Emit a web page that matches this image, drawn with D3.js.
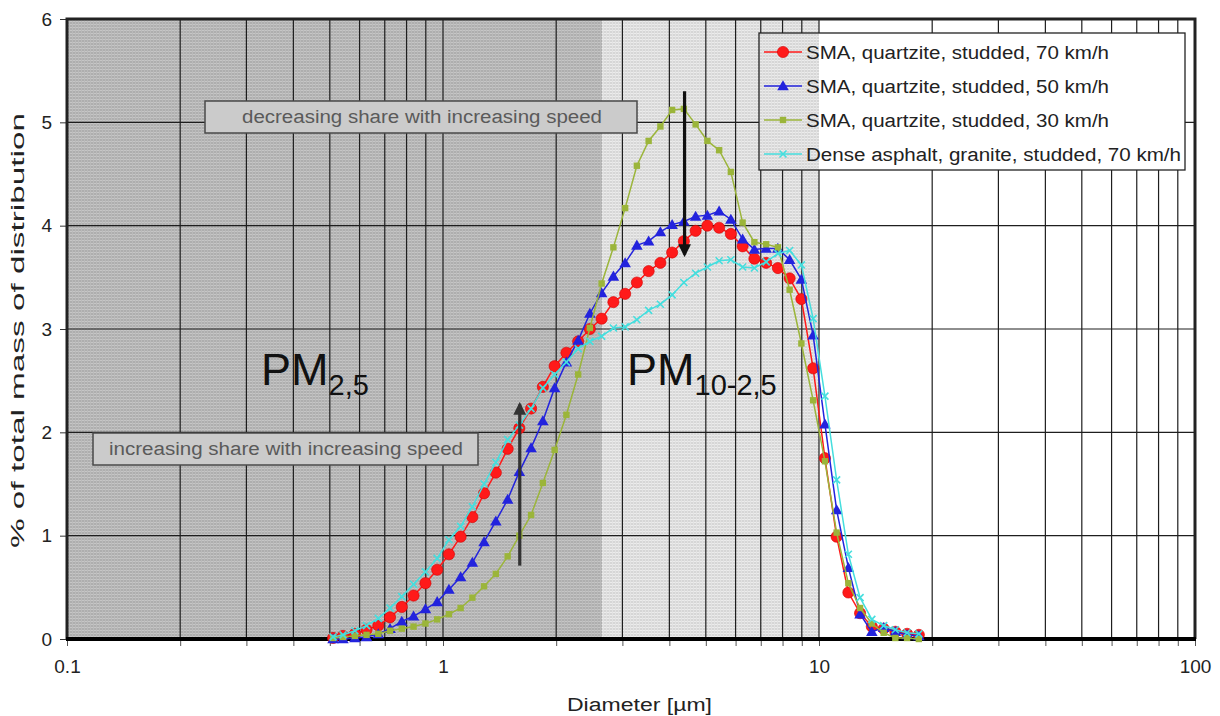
<!DOCTYPE html>
<html>
<head>
<meta charset="utf-8">
<script src="https://cdn.jsdelivr.net/npm/d3@7"></script>
<style>
  body { margin: 0; background: #fff; }
  svg text { font-family: "Liberation Sans", Arial, sans-serif; }
</style>
</head>
<body>
<script>
// particle diameters (µm), APS channels
const diameters = [0.51, 0.542, 0.583, 0.626, 0.673, 0.723, 0.777, 0.835, 0.898, 0.965,
  1.037, 1.114, 1.197, 1.286, 1.382, 1.486, 1.596, 1.715, 1.843, 1.981,
  2.129, 2.288, 2.458, 2.642, 2.839, 3.051, 3.278, 3.523, 3.786, 4.068,
  4.371, 4.698, 5.048, 5.425, 5.829, 6.264, 6.732, 7.234, 7.774, 8.354,
  8.977, 9.647, 10.37, 11.14, 11.97, 12.86, 13.82, 14.86, 15.96, 17.15, 18.43];

const sma70 = [0.01, 0.03, 0.05, 0.09, 0.13, 0.21, 0.31, 0.42, 0.54, 0.67,
  0.82, 0.99, 1.18, 1.41, 1.61, 1.84, 2.04, 2.23, 2.44, 2.64,
  2.77, 2.88, 3.00, 3.10, 3.26, 3.34, 3.45, 3.56, 3.64, 3.74,
  3.85, 3.95, 4.00, 3.98, 3.92, 3.80, 3.68, 3.64, 3.59, 3.49,
  3.29, 2.62, 1.75, 0.99, 0.45, 0.25, 0.12, 0.10, 0.07, 0.05, 0.04];

const sma50 = [0.00, 0.00, 0.01, 0.02, 0.05, 0.10, 0.17, 0.22, 0.29, 0.36,
  0.48, 0.60, 0.74, 0.94, 1.14, 1.35, 1.62, 1.85, 2.11, 2.43,
  2.68, 2.89, 3.15, 3.35, 3.51, 3.64, 3.81, 3.85, 3.94, 4.01,
  4.04, 4.09, 4.10, 4.14, 4.06, 3.87, 3.77, 3.78, 3.78, 3.67,
  3.48, 2.94, 2.08, 1.25, 0.69, 0.24, 0.07, 0.11, 0.07, 0.04, 0.03];

const sma30 = [0.01, 0.02, 0.03, 0.04, 0.05, 0.08, 0.10, 0.12, 0.15, 0.19,
  0.24, 0.30, 0.40, 0.51, 0.63, 0.80, 1.00, 1.20, 1.51, 1.83,
  2.17, 2.56, 3.01, 3.44, 3.79, 4.17, 4.58, 4.82, 4.96, 5.12,
  5.13, 4.98, 4.82, 4.73, 4.52, 4.03, 3.84, 3.82, 3.79, 3.38,
  2.86, 2.31, 1.72, 1.03, 0.54, 0.30, 0.15, 0.06, 0.01, 0.01, 0.00];

const dense70 = [0.02, 0.04, 0.08, 0.13, 0.20, 0.30, 0.41, 0.53, 0.65, 0.78,
  0.96, 1.09, 1.28, 1.50, 1.71, 1.93, 2.07, 2.23, 2.43, 2.56,
  2.68, 2.81, 2.88, 2.93, 3.01, 3.02, 3.09, 3.18, 3.24, 3.33,
  3.45, 3.54, 3.60, 3.66, 3.67, 3.60, 3.59, 3.65, 3.73, 3.76,
  3.62, 3.10, 2.35, 1.54, 0.82, 0.40, 0.19, 0.13, 0.09, 0.06, 0.05];

const seriesNames = ['SMA, quartzite, studded, 70 km/h', 'SMA, quartzite, studded, 50 km/h',
  'SMA, quartzite, studded, 30 km/h', 'Dense asphalt, granite, studded, 70 km/h'];
const seriesValues = [sma70, sma50, sma30, dense70];
const seriesColors = ['#ff1a1a', '#2323dd', '#9bb53a', '#45dede'];
const seriesMarkers = ['circle', 'triangle', 'square', 'cross'];

const yTicks = [0, 1, 2, 3, 4, 5, 6];
const xTickLabels = [0.1, 1, 10, 100];
const pm25Limit = 2.65;   // end of the dark shaded band
const pm10Limit = 10;

const width = 1220;
const height = 716;
const plot = { left: 67, right: 1195, top: 19, bottom: 639 };

const svg = d3.select('body').append('svg')
  .attr('width', width)
  .attr('height', height);

const x = d3.scaleLog().domain([0.1, 100]).range([plot.left, plot.right]);
const y = d3.scaleLinear().domain([0, 6]).range([plot.bottom, plot.top]);

// textured fills for the two PM bands
const defs = svg.append('defs');
function texture(id, base, lineH, lineV) {
  const p = defs.append('pattern')
    .attr('id', id)
    .attr('patternUnits', 'userSpaceOnUse')
    .attr('width', 3).attr('height', 3);
  p.append('rect').attr('width', 3).attr('height', 3).attr('fill', base);
  p.append('rect').attr('width', 3).attr('height', 1).attr('fill', lineH);
  p.append('rect').attr('width', 1).attr('height', 3).attr('fill', lineV);
}
texture('darkBand', '#aeaeae', '#c6c6c6', '#bababa');
texture('lightBand', '#d6d6d6', '#ececec', '#e2e2e2');

svg.append('rect')
  .attr('x', x(0.1)).attr('y', plot.top)
  .attr('width', x(pm25Limit) - x(0.1)).attr('height', plot.bottom - plot.top)
  .attr('fill', 'url(#darkBand)');
svg.append('rect')
  .attr('x', x(pm25Limit)).attr('y', plot.top)
  .attr('width', x(pm10Limit) - x(pm25Limit)).attr('height', plot.bottom - plot.top)
  .attr('fill', 'url(#lightBand)');

// grid
const gridX = [];
[0.1, 1, 10].forEach(d => { for (let k = 1; k <= 9; k++) gridX.push(+(d * k).toPrecision(3)); });
gridX.push(100);

svg.append('g')
  .selectAll('line')
  .data(gridX.filter(d => d > 0.1 && d < 100))
  .enter().append('line')
  .attr('x1', d => x(d)).attr('x2', d => x(d))
  .attr('y1', plot.top).attr('y2', plot.bottom)
  .attr('stroke', '#1e1e1e').attr('stroke-width', 1.2);

svg.append('g')
  .selectAll('line')
  .data(yTicks.filter(d => d > 0 && d < 6))
  .enter().append('line')
  .attr('x1', plot.left).attr('x2', plot.right)
  .attr('y1', d => y(d)).attr('y2', d => y(d))
  .attr('stroke', '#1e1e1e').attr('stroke-width', 1.2);

// axes
const yAxis = d3.axisLeft(y).tickValues(yTicks).tickSize(7).tickPadding(8)
  .tickFormat(d3.format('d'));
svg.append('g')
  .attr('transform', `translate(${plot.left},0)`)
  .call(yAxis)
  .call(g => g.select('.domain').remove())
  .call(g => g.selectAll('line').attr('stroke', '#333'))
  .call(g => g.selectAll('text').attr('font-size', 19).attr('fill', '#222'));

const xAxis = d3.axisBottom(x).tickValues(gridX).tickSize(7).tickPadding(14)
  .tickFormat(d => xTickLabels.includes(d) ? d3.format('')(d) : '');
svg.append('g')
  .attr('transform', `translate(0,${plot.bottom})`)
  .call(xAxis)
  .call(g => g.select('.domain').remove())
  .call(g => g.selectAll('line').attr('stroke', '#555'))
  .call(g => g.selectAll('text').attr('font-size', 19).attr('fill', '#222'));

// frame
svg.append('path')
  .attr('d', `M${plot.left},${plot.bottom}V${plot.top}H${plot.right}V${plot.bottom}`)
  .attr('fill', 'none').attr('stroke', '#222').attr('stroke-width', 3);
svg.append('line')
  .attr('x1', plot.left - 1).attr('x2', plot.right + 1)
  .attr('y1', plot.bottom).attr('y2', plot.bottom)
  .attr('stroke', '#000').attr('stroke-width', 4);

// axis titles
svg.append('text')
  .attr('x', 567).attr('y', 711)
  .attr('font-size', 18).attr('fill', '#222')
  .attr('textLength', 145).attr('lengthAdjust', 'spacingAndGlyphs')
  .text('Diameter [µm]');
svg.append('text')
  .attr('transform', `translate(24,548) rotate(-90)`)
  .attr('font-size', 18).attr('fill', '#222')
  .attr('textLength', 435).attr('lengthAdjust', 'spacingAndGlyphs')
  .text('% of total mass of distribution');

// PM labels
function pmLabel(xPos, sub) {
  const t = svg.append('text')
    .attr('x', xPos).attr('y', 385)
    .attr('font-size', 45).attr('fill', '#111');
  t.append('tspan').text('PM');
  t.append('tspan').attr('font-size', 29).attr('dy', 10).text(sub);
}
pmLabel(261, '2,5');
pmLabel(627, '10-2,5');

// markers
function drawMarker(g, type, color, cx, cy) {
  if (type === 'circle') {
    g.append('circle').attr('cx', cx).attr('cy', cy).attr('r', 5.6)
      .attr('fill', color).attr('stroke', '#d40000').attr('stroke-width', 0.6);
  } else if (type === 'triangle') {
    g.append('path').attr('transform', `translate(${cx},${cy + 1})`)
      .attr('d', d3.symbol(d3.symbolTriangle, 58)()).attr('fill', color);
  } else if (type === 'square') {
    g.append('rect').attr('x', cx - 3.2).attr('y', cy - 3.2)
      .attr('width', 6.4).attr('height', 6.4).attr('fill', color);
  } else {
    g.append('path')
      .attr('d', `M${cx - 3.5},${cy - 3.5}L${cx + 3.5},${cy + 3.5}M${cx - 3.5},${cy + 3.5}L${cx + 3.5},${cy - 3.5}`)
      .attr('stroke', color).attr('stroke-width', 1.6);
  }
}

const line = d3.line().x(d => x(d[0])).y(d => y(d[1]));

seriesValues.forEach((vals, i) => {
  const pts = diameters.map((d, j) => [d, vals[j]]);
  const g = svg.append('g');
  g.append('path')
    .attr('d', line(pts))
    .attr('fill', 'none')
    .attr('stroke', seriesColors[i])
    .attr('stroke-width', 1.5);
  pts.forEach(p => drawMarker(g, seriesMarkers[i], seriesColors[i], x(p[0]), y(p[1])));
});

// annotation boxes
function noteBox(x0, x1, yTop, tx, tw, label) {
  svg.append('rect')
    .attr('x', x0).attr('y', yTop)
    .attr('width', x1 - x0).attr('height', 32)
    .attr('fill', '#cbcbcb').attr('stroke', '#4a4a4a').attr('stroke-width', 1.5);
  svg.append('text')
    .attr('x', tx).attr('y', yTop + 22)
    .attr('font-size', 18).attr('fill', '#5a5a5a')
    .attr('textLength', tw).attr('lengthAdjust', 'spacingAndGlyphs')
    .text(label);
}
noteBox(205, 637, 101, 242, 360, 'decreasing share with increasing speed');
noteBox(93, 478, 433, 109, 354, 'increasing share with increasing speed');

// arrows
defs.append('marker')
  .attr('id', 'head').attr('viewBox', '0 0 10 10')
  .attr('refX', 8).attr('refY', 5)
  .attr('markerWidth', 4).attr('markerHeight', 4)
  .attr('orient', 'auto')
  .append('path').attr('d', 'M0,0L10,5L0,10z').attr('fill', 'context-stroke');

function arrow(ax, v0, v1, color) {
  svg.append('line')
    .attr('x1', x(ax)).attr('x2', x(ax))
    .attr('y1', y(v0)).attr('y2', y(v1))
    .attr('stroke', color).attr('stroke-width', 3.2)
    .attr('marker-end', 'url(#head)');
}
arrow(4.39, 5.3, 3.72, '#111');
arrow(1.6, 0.71, 2.27, '#333');

// legend
const legend = svg.append('g').attr('transform', 'translate(759,33)');
legend.append('rect')
  .attr('width', 426).attr('height', 137)
  .attr('fill', '#fff');
legend.append('rect')
  .attr('width', x(pm10Limit) - 759).attr('height', 137)
  .attr('fill', 'url(#lightBand)');
legend.append('rect')
  .attr('width', 426).attr('height', 137)
  .attr('fill', 'none').attr('stroke', '#222').attr('stroke-width', 1.3);

const legendWidths = [303, 303, 303, 375];
seriesNames.forEach((name, i) => {
  const ry = 19 + i * 34;
  const row = legend.append('g');
  row.append('line')
    .attr('x1', 5).attr('x2', 43).attr('y1', ry).attr('y2', ry)
    .attr('stroke', seriesColors[i]).attr('stroke-width', 1.5);
  drawMarker(row, seriesMarkers[i], seriesColors[i], 24, ry);
  row.append('text')
    .attr('x', 47).attr('y', ry + 7)
    .attr('font-size', 18).attr('fill', '#222')
    .attr('textLength', legendWidths[i]).attr('lengthAdjust', 'spacingAndGlyphs')
    .text(name);
});
</script>
</body>
</html>
